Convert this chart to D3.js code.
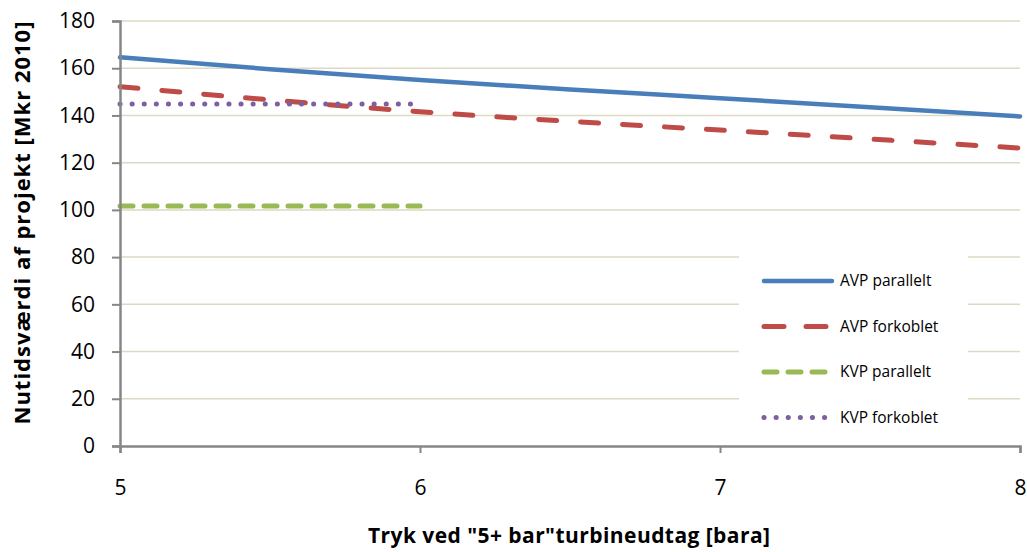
<!DOCTYPE html>
<html>
<head>
<meta charset="utf-8">
<script src="https://cdnjs.cloudflare.com/ajax/libs/d3/7.8.5/d3.min.js"></script>
<style>
  body { margin: 0; background: #fff; }
  text { font-family: "Open Sans", sans-serif; }
</style>
</head>
<body>
<div id="chartArea"></div>
<script>
// Data
let pressure = [5, 5.5, 6, 6.5, 7, 7.5, 8];
let avpParallelt = [164.6, 159.6, 155.0, 151.0, 147.3, 143.5, 139.6];
let avpForkoblet = [152.2, 146.6, 141.6, 137.5, 133.8, 130.0, 126.2];
let kvpX = [5, 6];
let kvpParallelt = [101.6, 101.6];
let kvpForkoblet = [144.8, 144.8];
let yTicks = [0, 20, 40, 60, 80, 100, 120, 140, 160, 180];
let xTicks = [5, 6, 7, 8];

let series = [
    { name: 'AVP parallelt', x: pressure, y: avpParallelt, color: '#4a7ebb', dash: null, width: 4.5 },
    { name: 'AVP forkoblet', x: pressure, y: avpForkoblet, color: '#be4b48', dash: '18,24', width: 5 },
    { name: 'KVP parallelt', x: kvpX, y: kvpParallelt, color: '#98b954', dash: '13,11', width: 5 },
    { name: 'KVP forkoblet', x: kvpX, y: kvpForkoblet, color: '#7d60a0', dash: '0.1,12', width: 5 }
];

let margins = { top: 21, right: 7, bottom: 106, left: 120 };
let width = 1027 - margins.left - margins.right,
    height = 552 - margins.top - margins.bottom;

let svg = d3.select('#chartArea')
    .append('svg')
    .attr('width', 1027)
    .attr('height', 552);

let chart = svg.append('g')
    .attr('transform', 'translate(' + margins.left + ',' + margins.top + ')');

let xScale = d3.scaleLinear().domain([5, 8]).range([0, width]);
let yScale = d3.scaleLinear().domain([0, 180]).range([height, 0]);

// Gridlines
chart.selectAll('.grid')
    .data(yTicks.filter(d => d > 0))
    .enter().append('line')
    .attr('x1', 0)
    .attr('x2', width)
    .attr('y1', d => yScale(d))
    .attr('y2', d => yScale(d))
    .attr('stroke', '#ddd9c3')
    .attr('stroke-width', 1.5);

// Lines
let line = d3.line()
    .x(d => xScale(d[0]))
    .y(d => yScale(d[1]))
    .curve(d3.curveMonotoneX);

series.forEach(s => {
    chart.append('path')
        .attr('d', line(s.x.map((v, i) => [v, s.y[i]])))
        .attr('fill', 'none')
        .attr('stroke', s.color)
        .attr('stroke-width', s.width)
        .attr('stroke-linecap', 'round')
        .attr('stroke-dasharray', s.dash);
});

// Axes
let yAxis = chart.append('g')
    .call(d3.axisLeft(yScale).tickValues(yTicks).tickSize(8).tickPadding(17));
let xAxis = chart.append('g')
    .attr('transform', 'translate(0,' + height + ')')
    .call(d3.axisBottom(xScale).tickValues(xTicks).tickSize(7).tickPadding(27).tickFormat(d3.format('d')));

[yAxis, xAxis].forEach(ax => {
    ax.select('.domain').attr('stroke', '#868686').attr('stroke-width', 2.5);
    ax.selectAll('.tick line').attr('stroke', '#868686').attr('stroke-width', 2);
    ax.selectAll('.tick text').attr('fill', '#000').style('font-size', '21px')
        .style('font-family', '"Open Sans", sans-serif');
});

// Legend
let legend = chart.append('g')
    .attr('transform', 'translate(' + (739 - margins.left) + ',' + (245 - margins.top) + ')');

legend.append('rect')
    .attr('width', 229)
    .attr('height', 198)
    .attr('fill', '#fff');

series.forEach((s, i) => {
    let ly = 36 + i * 45.5;
    legend.append('line')
        .attr('x1', 25)
        .attr('x2', 93)
        .attr('y1', ly)
        .attr('y2', ly)
        .attr('stroke', s.color)
        .attr('stroke-width', s.width)
        .attr('stroke-linecap', 'round')
        .attr('stroke-dasharray', s.name === 'AVP forkoblet' ? '20,22' : s.dash);
    legend.append('text')
        .attr('x', 101)
        .attr('y', ly)
        .attr('dy', '0.35em')
        .style('font-size', '15.5px')
        .text(s.name);
});

// Axis titles
svg.append('text')
    .attr('x', 569)
    .attr('y', 543)
    .attr('text-anchor', 'middle')
    .attr('textLength', 402)
    .style('font-size', '21px')
    .style('font-weight', 'bold')
    .text('Tryk ved "5+ bar"turbineudtag [bara]');

svg.append('text')
    .attr('transform', 'rotate(-90)')
    .attr('x', -223)
    .attr('y', 30)
    .attr('text-anchor', 'middle')
    .attr('textLength', 403)
    .style('font-size', '22px')
    .style('font-weight', 'bold')
    .text('Nutidsværdi af projekt [Mkr 2010]');
</script>
</body>
</html>
